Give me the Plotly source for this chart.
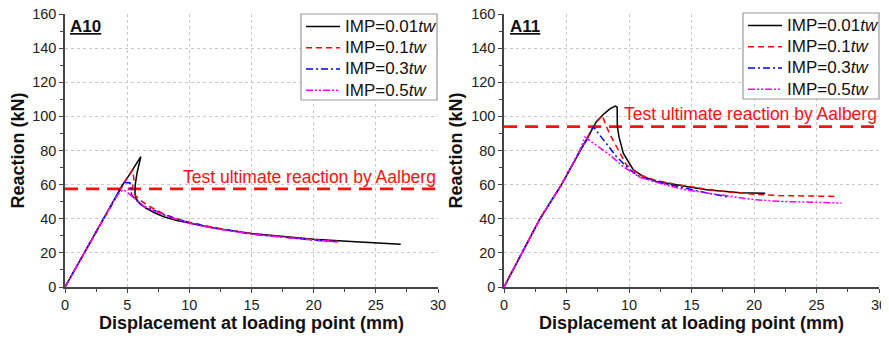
import plotly.graph_objects as go

# ---------------- data ----------------
series_names = ["IMP=0.01<i>tw</i>", "IMP=0.1<i>tw</i>", "IMP=0.3<i>tw</i>", "IMP=0.5<i>tw</i>"]
series_colors = ["#000000", "#ff0000", "#0000ff", "#ff00ff"]
series_dashes = ["solid", "6px,4px", "7px,3px,2px,3px", "7px,2px,2px,2px,2px,2px"]

# A10
a10_x_001 = [0, 2, 4, 4.6, 5.2, 5.7, 6.1, 5.8, 5.65, 5.63, 5.7, 6.0, 6.5, 7.2, 8, 9, 10, 12, 15, 18, 20, 23, 25, 27]
a10_y_001 = [0, 25.8, 51.6, 59.5, 66, 71.5, 76.4, 67, 60, 55, 52, 49, 46.3, 43.5, 41, 39, 37.5, 34.5, 31.3, 29.2, 28.0, 26.6, 25.8, 25]
a10_x_01 = [0, 2, 4, 4.6, 5.0, 5.44, 5.55, 5.45, 5.36, 5.6, 6.03, 6.6, 7.3, 8, 9, 10, 12, 15, 18, 20, 22]
a10_y_01 = [0, 25.8, 51.6, 59.3, 64, 68.6, 63, 59, 56.8, 54, 51, 48, 45, 42.5, 40, 38, 34.8, 31.3, 29, 27.7, 26.6]
a10_x_03 = [0, 2, 4, 4.6, 4.83, 5.05, 5.23, 5.3, 5.36, 5.7, 6.16, 6.8, 7.5, 8.5, 10, 12, 15, 18, 20, 22]
a10_y_03 = [0, 25.8, 51.6, 59.3, 61.1, 61.3, 61, 58, 54, 51, 48, 46, 44, 41, 37.6, 34.6, 31, 28.8, 27.5, 26.5]
a10_x_05 = [0, 2, 4, 4.4, 4.7, 5.0, 5.4, 5.9, 6.4, 7.2, 8.2, 10, 12, 15, 18, 20, 22]
a10_y_05 = [0, 25.8, 51.6, 55.5, 57, 55.5, 53, 50, 47, 44.5, 41.5, 37.3, 34.3, 31, 28.7, 27.5, 26.5]
a10_test = 57.5

# A11
a11_x_001 = [0, 1.41, 2.88, 4.6, 6.08, 7.0, 7.4, 8.0, 8.5, 8.9, 9.05, 9.07, 9.2, 9.55, 10.35, 11.2, 12.2, 14.6, 16.2, 18.9, 20.9]
a11_y_001 = [0, 20, 40, 60, 80, 92, 97, 101.5, 104.5, 106, 105.5, 94, 88, 78.3, 68.6, 64.5, 61.8, 58.9, 57, 55.3, 54.9]
a11_x_01 = [0, 1.41, 2.88, 4.6, 6.08, 7.0, 7.5, 7.85, 8.0, 8.08, 8.5, 9.0, 9.8, 10.9, 12, 13.5, 15, 16, 18, 20, 22, 24, 26.6]
a11_y_01 = [0, 20, 40, 60, 80, 92, 97.5, 100.5, 98, 96, 89, 82, 71.5, 65.6, 62.8, 60.5, 58.5, 57.5, 55.7, 54.4, 53.6, 53.2, 53.1]
a11_x_03 = [0, 1.41, 2.88, 4.6, 6.08, 6.6, 7.0, 7.15, 7.5, 7.95, 8.5, 9, 10.08, 10.88, 12, 13.5, 16, 18.1]
a11_y_03 = [0, 20, 40, 60, 80, 86, 92, 94, 90.5, 86.2, 81, 76.4, 68.6, 64.6, 62, 59.5, 55.5, 52.5]
a11_x_05 = [0, 1.41, 2.88, 4.6, 6.0, 6.48, 6.88, 8.48, 9.55, 10.88, 13, 14.6, 18, 20, 22, 25, 27]
a11_y_05 = [0, 20, 40, 60, 79, 88, 85.7, 77.3, 70.5, 64.3, 59.6, 56.8, 53, 51.2, 50.2, 49.5, 49.2]
a11_test = 94

x_range = [0, 30]
y_range = [0, 160]
x_tick_vals = [0, 5, 10, 15, 20, 25, 30]
y_tick_vals = [0, 20, 40, 60, 80, 100, 120, 140, 160]
panel_labels = ["A10", "A11"]
test_label = "Test ultimate reaction by Aalberg"

FONT = "Arial, Liberation Sans, sans-serif"
OFF = 8                      # page body margin of the browser
W, H = 889 - OFF, 338 - OFF  # figure size so that it fills the window


def px(sx):
    return (sx - OFF) / W


def py(sy):
    return 1 - (sy - OFF) / H


fig = go.Figure()

panels = [
    dict(xs=[a10_x_001, a10_x_01, a10_x_03, a10_x_05], ys=[a10_y_001, a10_y_01, a10_y_03, a10_y_05],
         test=a10_test, xa="x", ya="y", legend="legend"),
    dict(xs=[a11_x_001, a11_x_01, a11_x_03, a11_x_05], ys=[a11_y_001, a11_y_01, a11_y_03, a11_y_05],
         test=a11_test, xa="x2", ya="y2", legend="legend2"),
]

for p in panels:
    fig.add_trace(go.Scatter(x=x_range, y=[p["test"], p["test"]], xaxis=p["xa"], yaxis=p["ya"],
                             mode="lines", showlegend=False, hoverinfo="skip",
                             line=dict(color="#ff1010", width=2.6, dash="13px,8px")))
    for i in range(4):
        fig.add_trace(go.Scatter(x=p["xs"][i], y=p["ys"][i], xaxis=p["xa"], yaxis=p["ya"],
                                 mode="lines",
                                 name='<span style="font-size:17px">' + series_names[i] + "</span>",
                                 legend=p["legend"],
                                 line=dict(color=series_colors[i], width=1.5, dash=series_dashes[i])))

y_dom = [py(287), py(14)]
x_dom1 = [px(65), px(438)]
x_dom2 = [px(504), px(879)]


def xaxis(dom, anchor):
    return dict(domain=dom, anchor=anchor, range=x_range, tickvals=x_tick_vals,
                showline=True, linecolor="#444", linewidth=1.5, ticks="outside", ticklen=4,
                tickwidth=1.2, tickcolor="#444", ticklabeloverflow="allow",
                minor=dict(ticks="outside", ticklen=3, tickcolor="#444", dtick=2.5, showgrid=False),
                showgrid=True, gridcolor="#c8c8c8", griddash="dot", gridwidth=1,
                zeroline=False, automargin=False, tickfont=dict(family=FONT, size=14.5, color="#222"),
                title=dict(text="<b>Displacement at loading point (mm)</b>",
                           font=dict(family=FONT, size=18, color="#111"), standoff=2))


def yaxis(anchor):
    return dict(domain=y_dom, anchor=anchor, range=y_range, tickvals=y_tick_vals,
                showline=True, linecolor="#444", linewidth=1.5, ticks="outside", ticklen=4,
                tickwidth=1.2, tickcolor="#444", ticklabeloverflow="allow",
                minor=dict(ticks="outside", ticklen=3, tickcolor="#444", dtick=10, showgrid=False),
                showgrid=True, gridcolor="#c8c8c8", griddash="dot", gridwidth=1,
                zeroline=False, automargin=False, tickfont=dict(family=FONT, size=14.5, color="#222"),
                title=dict(text="<b>Reaction (kN)</b>",
                           font=dict(family=FONT, size=18, color="#111"), standoff=4))


legend_common = dict(bgcolor="rgba(0,0,0,0)", borderwidth=0, itemwidth=34,
                     font=dict(family=FONT, size=14, color="#111"),
                     xanchor="left", yanchor="top", tracegroupgap=0)

# legend frames (white box with grey border)
shapes = [
    dict(type="rect", xref="paper", yref="paper", x0=px(301), x1=px(437), y0=py(100), y1=py(14),
         fillcolor="white", line=dict(color="#999", width=1.2), layer="above"),
    dict(type="rect", xref="paper", yref="paper", x0=px(743), x1=px(879), y0=py(99), y1=py(13),
         fillcolor="white", line=dict(color="#999", width=1.2), layer="above"),
]

annotations = [
    dict(text="<b><u>" + panel_labels[0] + "</u></b>", xref="paper", yref="paper",
         x=px(68), y=py(26), xanchor="left", yanchor="middle", showarrow=False,
         font=dict(family=FONT, size=17, color="#111")),
    dict(text="<b><u>" + panel_labels[1] + "</u></b>", xref="paper", yref="paper",
         x=px(508), y=py(26), xanchor="left", yanchor="middle", showarrow=False,
         font=dict(family=FONT, size=17, color="#111")),
    dict(text=test_label, xref="x", yref="y", x=30, y=a10_test + 7, xanchor="right", yanchor="middle",
         showarrow=False, font=dict(family=FONT, size=17.5, color="#ff1010")),
    dict(text=test_label, xref="x2", yref="y2", x=30, y=a11_test + 7.4, xanchor="right", yanchor="middle",
         showarrow=False, font=dict(family=FONT, size=17.5, color="#ff1010")),
]

fig.update_layout(
    width=W, height=H, margin=dict(l=0, r=0, t=0, b=0, pad=0, autoexpand=False),
    paper_bgcolor="white", plot_bgcolor="white",
    xaxis=xaxis(x_dom1, "y"), yaxis=yaxis("x"),
    xaxis2=xaxis(x_dom2, "y2"), yaxis2=yaxis("x2"),
    legend=dict(legend_common, x=px(301), y=py(11)),
    legend2=dict(legend_common, x=px(743), y=py(10)),
    shapes=shapes,
    annotations=annotations,
    showlegend=True,
)

fig.write_html("out.html")
